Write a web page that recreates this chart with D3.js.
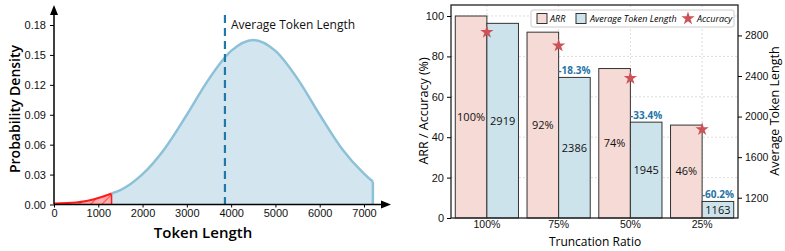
<!DOCTYPE html>
<html>
<head>
<meta charset="utf-8">
<script src="https://cdn.jsdelivr.net/npm/d3@7"></script>
<style>
  body { margin: 0; background: #fff; }
  svg { font-family: "Comic Sans MS", "Open Sans", sans-serif; }
</style>
</head>
<body>
<div id="chart"></div>
<script>
// ---- left panel: token length distribution ----
var tokenX = [0, 500, 1000, 1300, 1500, 2000, 2500, 3000, 3500, 4000, 4500, 5000, 5500, 6000, 6500, 7000, 7200];
var density = [0.001, 0.002, 0.0065, 0.011, 0.0145, 0.0305, 0.056, 0.090, 0.126, 0.154, 0.165, 0.154, 0.126, 0.090, 0.056, 0.031, 0.023];
var cutoff = 1300;
var avgToken = 3860;
var xTicks = [0, 1000, 2000, 3000, 4000, 5000, 6000, 7000];
var yTicks = [0, 0.03, 0.06, 0.09, 0.12, 0.15, 0.18];

// ---- right panel: truncation ----
var categories = ["100%", "75%", "50%", "25%"];
var arr = [100, 92, 74, 46];
var tokens = [2919, 2386, 1945, 1163];
var accuracy = [92, 85.3, 69.2, 43.9];
var reduction = ["", "-18.3%", "-33.4%", "-60.2%"];
var leftTicks = [0, 20, 40, 60, 80, 100];
var rightTicks = [1200, 1600, 2000, 2400, 2800];

var svg = d3.select("#chart").append("svg")
  .attr("width", 785)
  .attr("height", 251);

var defs = svg.append("defs");
var hatch = defs.append("pattern")
  .attr("id", "hatch")
  .attr("patternUnits", "userSpaceOnUse")
  .attr("width", 8)
  .attr("height", 8)
  .attr("patternTransform", "rotate(45)");
hatch.append("rect").attr("width", 8).attr("height", 8).attr("fill", "#ffadad");
hatch.append("line")
  .attr("x1", 0).attr("y1", 0).attr("x2", 0).attr("y2", 8)
  .attr("stroke", "#ff2020").attr("stroke-width", 1.4);

// ================= LEFT =================
var x = d3.scaleLinear().domain([0, 7000]).range([54, 364]);
var y = d3.scaleLinear().domain([0, 0.18]).range([204.5, 25]);

var pts = tokenX.map(function(t, i) { return {t: t, v: density[i]}; });
var area = d3.area()
  .x(function(d) { return x(d.t); })
  .y0(y(0))
  .y1(function(d) { return y(d.v); })
  .curve(d3.curveMonotoneX);
var line = d3.line()
  .x(function(d) { return x(d.t); })
  .y(function(d) { return y(d.v); })
  .curve(d3.curveMonotoneX);

svg.append("path")
  .attr("d", area(pts))
  .attr("fill", "#d3e6ef");

var redPts = pts.filter(function(d) { return d.t <= cutoff; });
svg.append("path")
  .attr("d", area(redPts))
  .attr("fill", "url(#hatch)");
svg.append("path")
  .attr("d", line(redPts))
  .attr("fill", "none")
  .attr("stroke", "#ff1a1a")
  .attr("stroke-width", 2);
svg.append("line")
  .attr("x1", x(cutoff)).attr("x2", x(cutoff))
  .attr("y1", y(0)).attr("y2", y(density[3]))
  .attr("stroke", "#ff1a1a").attr("stroke-width", 1.5);

var bluePts = pts.filter(function(d) { return d.t >= cutoff; });
svg.append("path")
  .attr("d", line(bluePts))
  .attr("fill", "none")
  .attr("stroke", "#8cc1d8")
  .attr("stroke-width", 2.5);
var last = pts[pts.length - 1];
svg.append("line")
  .attr("x1", x(last.t)).attr("x2", x(last.t))
  .attr("y1", y(0)).attr("y2", y(last.v))
  .attr("stroke", "#8cc1d8").attr("stroke-width", 2.5);

// dashed average line
svg.append("line")
  .attr("x1", x(avgToken)).attr("x2", x(avgToken))
  .attr("y1", 15).attr("y2", y(0))
  .attr("stroke", "#1f78a8")
  .attr("stroke-width", 2.2)
  .attr("stroke-dasharray", "8,5");
svg.append("text")
  .attr("x", x(avgToken) + 6).attr("y", 29)
  .attr("font-size", 12)
  .attr("fill", "#111")
  .text("Average Token Length");

// axes with arrows
svg.append("line")
  .attr("x1", 54).attr("x2", 384).attr("y1", y(0)).attr("y2", y(0))
  .attr("stroke", "#000").attr("stroke-width", 1.5);
svg.append("path")
  .attr("d", "M391," + y(0) + "L381," + (y(0) - 4) + "L381," + (y(0) + 4) + "Z")
  .attr("fill", "#000");
svg.append("line")
  .attr("x1", 54).attr("x2", 54).attr("y1", y(0)).attr("y2", 12)
  .attr("stroke", "#000").attr("stroke-width", 1.5);
svg.append("path")
  .attr("d", "M54,5L50,15L58,15Z")
  .attr("fill", "#000");

var gx = svg.append("g").attr("transform", "translate(0," + y(0) + ")")
  .call(d3.axisBottom(x).tickValues(xTicks).tickSize(3).tickFormat(d3.format("d")));
gx.select(".domain").remove();
gx.selectAll("text").attr("font-size", 11).attr("dy", "0.62em").attr("fill", "#111");

var gy = svg.append("g").attr("transform", "translate(54,0)")
  .call(d3.axisLeft(y).tickValues(yTicks).tickSize(4).tickFormat(d3.format(".2f")));
gy.select(".domain").remove();
gy.selectAll("text").attr("font-size", 11).attr("dx", "-1px").attr("fill", "#111");

svg.append("text")
  .attr("x", 203).attr("y", 238)
  .attr("text-anchor", "middle")
  .attr("font-size", 15).attr("font-weight", 600)
  .text("Token Length");
svg.append("text")
  .attr("transform", "translate(20,109) rotate(-90)")
  .attr("text-anchor", "middle")
  .attr("font-size", 14).attr("font-weight", 600)
  .text("Probability Density");

// ================= RIGHT =================
var xb = d3.scaleBand().domain(categories).range([451, 738]);
var yl = d3.scaleLinear().domain([0, 105.45]).range([218, 5]);
var yr = d3.scaleLinear().domain([1000, 3100]).range([218, 5]);
var bw = 31.6;

var grid = svg.append("g");
grid.selectAll(".hg").data(leftTicks.slice(1)).enter().append("line")
  .attr("x1", 451).attr("x2", 738)
  .attr("y1", function(d) { return yl(d); }).attr("y2", function(d) { return yl(d); })
  .attr("stroke", "#ddd").attr("stroke-dasharray", "2,2");
grid.selectAll(".vg").data(categories).enter().append("line")
  .attr("x1", function(d) { return xb(d) + xb.bandwidth() / 2; })
  .attr("x2", function(d) { return xb(d) + xb.bandwidth() / 2; })
  .attr("y1", 5).attr("y2", 218)
  .attr("stroke", "#ddd").attr("stroke-dasharray", "2,2");

var cx = function(i) { return xb(categories[i]) + xb.bandwidth() / 2; };

svg.selectAll(".arr").data(arr).enter().append("rect")
  .attr("x", function(d, i) { return cx(i) - bw; })
  .attr("y", function(d) { return yl(d); })
  .attr("width", bw)
  .attr("height", function(d) { return yl(0) - yl(d); })
  .attr("fill", "#f5dad5")
  .attr("stroke", "#333").attr("stroke-width", 1);

svg.selectAll(".tok").data(tokens).enter().append("rect")
  .attr("x", function(d, i) { return cx(i); })
  .attr("y", function(d) { return yr(d); })
  .attr("width", bw)
  .attr("height", function(d) { return yr(1000) - yr(d); })
  .attr("fill", "#cde3ec")
  .attr("stroke", "#333").attr("stroke-width", 1);

svg.selectAll(".arrLbl").data(arr).enter().append("text")
  .attr("x", function(d, i) { return cx(i) - bw / 2; })
  .attr("y", function(d) { return (yl(d) + yl(0)) / 2; })
  .attr("dy", "0.35em")
  .attr("text-anchor", "middle").attr("font-size", 11).attr("fill", "#111")
  .text(function(d) { return d + "%"; });

svg.selectAll(".tokLbl").data(tokens).enter().append("text")
  .attr("x", function(d, i) { return cx(i) + bw / 2; })
  .attr("y", function(d) { return (yr(d) + yr(1000)) / 2; })
  .attr("dy", "0.35em")
  .attr("text-anchor", "middle").attr("font-size", 11).attr("fill", "#111")
  .text(function(d) { return d; });

svg.selectAll(".red").data(tokens).enter().append("text")
  .attr("x", function(d, i) { return cx(i) + bw / 2; })
  .attr("y", function(d) { return yr(d) - 3; })
  .attr("text-anchor", "middle").attr("font-size", 10).attr("font-weight", "bold")
  .attr("fill", "#1f74a8")
  .text(function(d, i) { return reduction[i]; });

svg.selectAll(".star").data(accuracy).enter().append("path")
  .attr("d", d3.symbol().type(d3.symbolStar).size(55))
  .attr("transform", function(d, i) { return "translate(" + cx(i) + "," + yl(d) + ")"; })
  .attr("fill", "#cc5257");

// frame
svg.append("rect")
  .attr("x", 451).attr("y", 5).attr("width", 287).attr("height", 213)
  .attr("fill", "none").attr("stroke", "#222").attr("stroke-width", 1.3);

var gl = svg.append("g").attr("transform", "translate(451,0)")
  .call(d3.axisLeft(yl).tickValues(leftTicks).tickSize(4));
gl.select(".domain").remove();
gl.selectAll("text").attr("font-size", 11).attr("fill", "#111");

var gr = svg.append("g").attr("transform", "translate(738,0)")
  .call(d3.axisRight(yr).tickValues(rightTicks).tickSize(4).tickFormat(d3.format("d")));
gr.select(".domain").remove();
gr.selectAll("text").attr("font-size", 10.5).attr("fill", "#111");

var gb = svg.append("g").attr("transform", "translate(0,218)")
  .call(d3.axisBottom(xb).tickSize(0).tickPadding(3));
gb.select(".domain").remove();
gb.selectAll("text").attr("font-size", 10.5).attr("fill", "#111");

svg.append("text")
  .attr("x", 595).attr("y", 246)
  .attr("text-anchor", "middle").attr("font-size", 12)
  .text("Truncation Ratio");
svg.append("text")
  .attr("transform", "translate(428,111) rotate(-90)")
  .attr("text-anchor", "middle").attr("font-size", 12.5)
  .text("ARR / Accuracy (%)");
svg.append("text")
  .attr("transform", "translate(779,111) rotate(-90)")
  .attr("text-anchor", "middle").attr("font-size", 12.5)
  .text("Average Token Length");

// legend
var lg = svg.append("g");
lg.append("rect")
  .attr("x", 531).attr("y", 10).attr("width", 203).attr("height", 17).attr("rx", 2)
  .attr("fill", "#fff").attr("stroke", "#ccc");
lg.append("rect").attr("x", 537).attr("y", 13.5).attr("width", 10).attr("height", 10)
  .attr("fill", "#f5dad5").attr("stroke", "#333");
lg.append("text").attr("x", 550).attr("y", 22).attr("font-size", 9).attr("font-style", "italic").text("ARR");
lg.append("rect").attr("x", 576).attr("y", 13.5).attr("width", 10).attr("height", 10)
  .attr("fill", "#cde3ec").attr("stroke", "#333");
lg.append("text").attr("x", 590).attr("y", 22).attr("font-size", 9).attr("font-style", "italic").text("Average Token Length");
lg.append("path")
  .attr("d", d3.symbol().type(d3.symbolStar).size(55))
  .attr("transform", "translate(688,18.5)")
  .attr("fill", "#cc5257");
lg.append("text").attr("x", 697).attr("y", 22).attr("font-size", 9).attr("font-style", "italic").text("Accuracy");
</script>
</body>
</html>
